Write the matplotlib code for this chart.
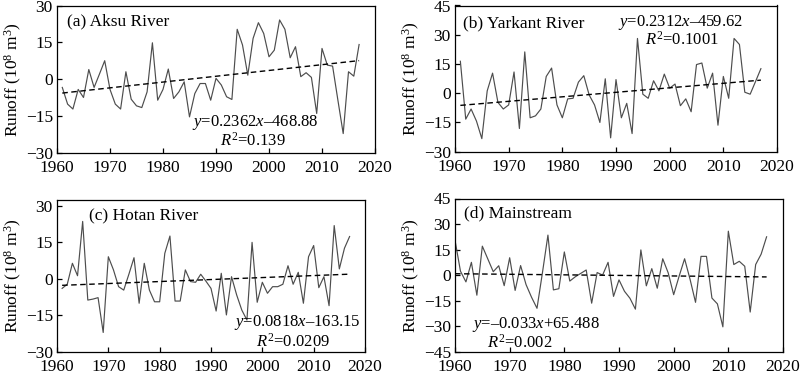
import matplotlib
matplotlib.use("Agg")
import matplotlib.pyplot as plt
import numpy as np

plt.rcParams["font.family"] = ["Liberation Serif", "DejaVu Serif"]
plt.rcParams["mathtext.fontset"] = "custom"
plt.rcParams["mathtext.rm"] = "Liberation Serif"
plt.rcParams["mathtext.it"] = "Liberation Serif:italic"
plt.rcParams["font.size"] = 12.5

years = np.arange(1961, 2018)
years_d = np.arange(1960, 2018)

aksu = [-3.4, -10.2, -12.2, -4.2, -7.5, 3.9, -3.4, 2.0, 7.5, -4.2,
        -10.2, -12.2, 3.0, -8.2, -10.9, -11.6, -5.2, 14.8, -8.6, -4.2,
        4.1, -7.9, -5.2, -1.1, -15.4, -5.9, -1.8, -1.8, -8.6, 0.3,
        -2.4, -7.2, -8.3, 20.3, 13.9, 1.6, 16.6, 23.0, 18.6, 9.1,
        11.8, 24.1, 20.3, 8.7, 13.2, 1.0, 2.6, 0.7, -14.0, 12.5,
        5.7, 5.3, -8.6, -22.2, 3.0, 1.2, 14.1]

yarkant = [16.4, -13.3, -8.1, -14.3, -23.3, 1.2, 10.3, -4.7, -8.1, -6.0,
           10.9, -18.1, 21.2, -12.6, -11.6, -8.1, 8.6, 12.9, -6.0, -12.6,
           -2.9, -2.6, 5.7, 9.0, -0.9, -6.0, -15.0, 7.4, -22.9, 7.0,
           -12.6, -5.2, -20.7, 28.1, -0.5, -2.6, 6.4, 1.2, 9.8, 2.6,
           4.7, -6.4, -2.9, -9.5, 14.7, 15.5, 2.6, 10.3, -16.4, 8.6,
           -2.6, 28.1, 25.0, 0.5, -0.5, 6.0, 12.6]

hotan = [-4.0, -2.3, 6.3, 1.2, 23.5, -8.8, -8.4, -7.8, -22.1, 9.0,
         3.6, -3.3, -4.7, 1.8, 8.6, -10.1, 6.3, -4.7, -9.5, -9.5,
         10.4, 17.5, -9.2, -9.2, 3.6, -1.2, -1.5, 1.8, -1.0, -4.0,
         -13.3, 2.2, -14.9, 0.8, -6.7, -12.9, -17.0, 14.9, -9.7, -1.5,
         -6.0, -3.3, -3.3, -2.3, 5.3, -2.3, 2.6, -10.1, 9.0, 13.6,
         -3.7, 0.8, -11.1, 21.8, 4.0, 12.5, 17.3]

mainstream = [20.5, 2.3, -4.0, 7.5, -11.8, 17.0, 9.5, 2.0, 5.5, -6.2,
              10.2, -9.0, 5.6, -5.6, -13.0, -19.5, 1.5, 23.5, -8.7, -8.0,
              13.6, -3.5, -1.0, 1.0, 3.0, -16.5, 1.5, 0.0, 7.5, -12.5,
              -2.8, -9.5, -13.6, -20.0, 14.8, -6.3, 3.8, -7.7, 9.6, 1.3,
              -11.5, -0.6, 9.6, -2.5, -16.0, 11.0, 11.0, -13.5, -16.9, -30.4,
              25.8, 6.2, 8.1, 5.2, -21.7, 6.2, 12.3, 22.5]

W, H = 800, 375


def px_axes(left, top, right, bottom):
    return [left / W, 1 - bottom / H, (right - left) / W, (bottom - top) / H]


panels = [
    dict(rect=(57, 5.5, 375, 152.7), x=years, y=aksu, fit=(0.2362, -468.88),
         ylim=(-30, 30), yticks=[-30, -15, 0, 15, 30],
         title="(a) Aksu River", tpos=(1961.9, 23.7),
         eq=r"$y$=0.2362$x$–468.88", r2=r"$R^2$=0.139",
         eqpos=(1997.4, -17.6), r2pos=(1997.0, -25.2)),
    dict(rect=(455, 5.5, 777, 151.7), x=years, y=yarkant, fit=(0.2312, -459.62),
         ylim=(-30, 45), yticks=[-30, -15, 0, 15, 30, 45],
         title="(b) Yarkant River", tpos=(1961.4, 36),
         eq=r"$y$=0.2312$x$–459.62", r2=r"$R^2$=0.1001",
         eqpos=(2002, 36.4), r2pos=(2002.3, 27.2)),
    dict(rect=(57, 200, 365, 351.7), x=years, y=hotan, fit=(0.0818, -163.15),
         ylim=(-30, 32.3), yticks=[-30, -15, 0, 15, 30],
         title="(c) Hotan River", tpos=(1966.2, 25.5),
         eq=r"$y$=0.0818$x$–163.15", r2=r"$R^2$=0.0209",
         eqpos=(2006.8, -18.0), r2pos=(2005.9, -26.0)),
    dict(rect=(455, 198.5, 783, 351.7), x=years_d, y=mainstream, fit=(-0.033, 65.488),
         ylim=(-45, 45), yticks=[-45, -30, -15, 0, 15, 30, 45],
         title="(d) Mainstream", tpos=(1961.6, 36),
         eq=r"$y$=–0.033$x$+65.488", r2=r"$R^2$=0.002",
         eqpos=(1974.8, -29.0), r2pos=(1971.9, -40.0)),
]

fig = plt.figure(figsize=(W / 100, H / 100), dpi=100)

for p in panels:
    ax = fig.add_axes(px_axes(*p["rect"]))
    x = np.asarray(p["x"])
    ax.plot(x, p["y"], color="#4d4d4d", lw=0.85)
    k, b = p["fit"]
    ax.plot([x[0], x[-1]], [k * x[0] + b, k * x[-1] + b], color="black",
            lw=1.0, ls=(0, (4, 2.5)))
    ax.set_xlim(1960, 2020)
    ax.set_ylim(*p["ylim"])
    ax.set_xticks(range(1960, 2021, 10))
    ax.set_yticks(p["yticks"])
    ax.tick_params(direction="in", length=3.5, width=0.9, labelsize=12.5)
    ax.tick_params(axis="x", pad=5)
    ax.tick_params(axis="y", pad=3)
    for s in ax.spines.values():
        s.set_linewidth(0.9)
    ax.set_ylabel("Runoff (10$^8$ m$^3$)", fontsize=12.5, labelpad=1)
    ax.text(*p["tpos"], p["title"], ha="left", va="center", fontsize=12.5)
    ax.text(*p["eqpos"], p["eq"], ha="center", va="center", fontsize=12)
    ax.text(*p["r2pos"], p["r2"], ha="center", va="center", fontsize=12)

fig.savefig("out.png", dpi=100)
